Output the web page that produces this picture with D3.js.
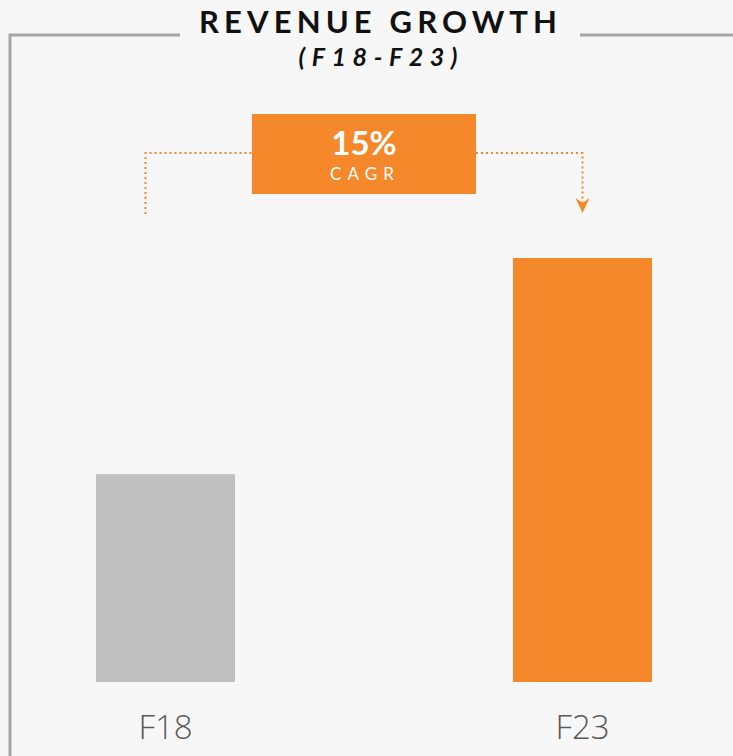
<!DOCTYPE html>
<html>
<head>
<meta charset="utf-8">
<script src="https://cdn.jsdelivr.net/npm/d3@7"></script>
<style>
  html, body { margin: 0; padding: 0; background: #f7f7f7; }
  svg { display: block; }
</style>
</head>
<body>
<div id="chart"></div>
<script>
// chart data
const periods = ['F18', 'F23'];
const revenueIndex = [100, 204];
const cagrLabel = '15%';
const cagrSub = 'CAGR';
const titleText = 'REVENUE GROWTH';
const subtitleText = '(F18-F23)';

const width = 733, height = 756;
const orange = '#f5882a';

const svg = d3.select('#chart')
    .append('svg')
    .attr('width', width)
    .attr('height', height);

svg.append('rect')
    .attr('width', width)
    .attr('height', height)
    .attr('fill', '#f7f7f7');

// Scales
const xScale = d3.scaleBand()
    .domain(periods)
    .range([96, 652])
    .paddingInner(2 / 3)
    .paddingOuter(0);

const yScale = d3.scaleLinear()
    .domain([0, d3.max(revenueIndex)])
    .range([682, 258]);

// Frame
svg.append('path')
    .attr('d', 'M10,756 V35 H180 M580,35 H733')
    .attr('fill', 'none')
    .attr('stroke', '#a6a6a6')
    .attr('stroke-width', 3);

// Title
svg.append('text')
    .attr('x', 378)
    .attr('y', 33)
    .attr('text-anchor', 'middle')
    .attr('textLength', 358)
    .attr('lengthAdjust', 'spacing')
    .style('font-family', 'Lato, sans-serif')
    .style('font-weight', 'bold')
    .style('font-size', '31px')
    .style('fill', '#111')
    .text(titleText);

svg.append('text')
    .attr('x', 378)
    .attr('y', 66)
    .attr('text-anchor', 'middle')
    .attr('textLength', 159)
    .attr('lengthAdjust', 'spacing')
    .style('font-family', 'Lato, sans-serif')
    .style('font-weight', 'bold')
    .style('font-style', 'italic')
    .style('font-size', '25px')
    .style('fill', '#111')
    .text(subtitleText);

// Bars
svg.selectAll('.bar')
    .data(periods)
    .enter()
    .append('rect')
    .attr('class', 'bar')
    .attr('x', d => xScale(d))
    .attr('y', (d, i) => yScale(revenueIndex[i]))
    .attr('width', xScale.bandwidth())
    .attr('height', (d, i) => yScale(0) - yScale(revenueIndex[i]))
    .attr('fill', (d, i) => i === 0 ? '#c0c0c0' : orange);

// Axis labels
const xAxis = d3.axisBottom(xScale).tickSize(0).tickPadding(0);
const axisG = svg.append('g')
    .attr('transform', `translate(0,${yScale(0)})`)
    .call(xAxis);
axisG.select('.domain').remove();
axisG.selectAll('text')
    .attr('dy', null)
    .attr('y', 57)
    .style('font-family', '"Open Sans", sans-serif')
    .style('font-weight', 300)
    .style('font-size', '33px')
    .style('fill', '#595959');

// CAGR connector
const x0 = xScale(periods[0]) + xScale.bandwidth() / 2 - 20;
const x1 = xScale(periods[1]) + xScale.bandwidth() / 2;
const boxX = 252, boxW = 224, boxY = 114, boxH = 80;
const lineY = 153;

svg.append('path')
    .attr('d', `M${x0},214 V${lineY} H${boxX}`)
    .attr('fill', 'none')
    .attr('stroke', orange)
    .attr('stroke-width', 2)
    .attr('stroke-dasharray', '2,3');

svg.append('path')
    .attr('d', `M${boxX + boxW},${lineY} H${x1} V205`)
    .attr('fill', 'none')
    .attr('stroke', orange)
    .attr('stroke-width', 2)
    .attr('stroke-dasharray', '2,3');

svg.append('path')
    .attr('d', `M${x1 - 7},198 L${x1},213 L${x1 + 7},198 L${x1},203 Z`)
    .attr('fill', orange);

svg.append('rect')
    .attr('x', boxX)
    .attr('y', boxY)
    .attr('width', boxW)
    .attr('height', boxH)
    .attr('fill', orange);

svg.append('text')
    .attr('x', 364)
    .attr('y', 155)
    .attr('text-anchor', 'middle')
    .style('font-family', 'Lato, sans-serif')
    .style('font-weight', 'bold')
    .style('font-size', '33px')
    .style('fill', '#fff')
    .text(cagrLabel);

svg.append('text')
    .attr('x', 362)
    .attr('y', 180)
    .attr('text-anchor', 'middle')
    .attr('textLength', 64)
    .attr('lengthAdjust', 'spacing')
    .style('font-family', 'Lato, sans-serif')
    .style('font-weight', 400)
    .style('font-size', '17px')
    .style('fill', '#fff')
    .text(cagrSub);
</script>
</body>
</html>
